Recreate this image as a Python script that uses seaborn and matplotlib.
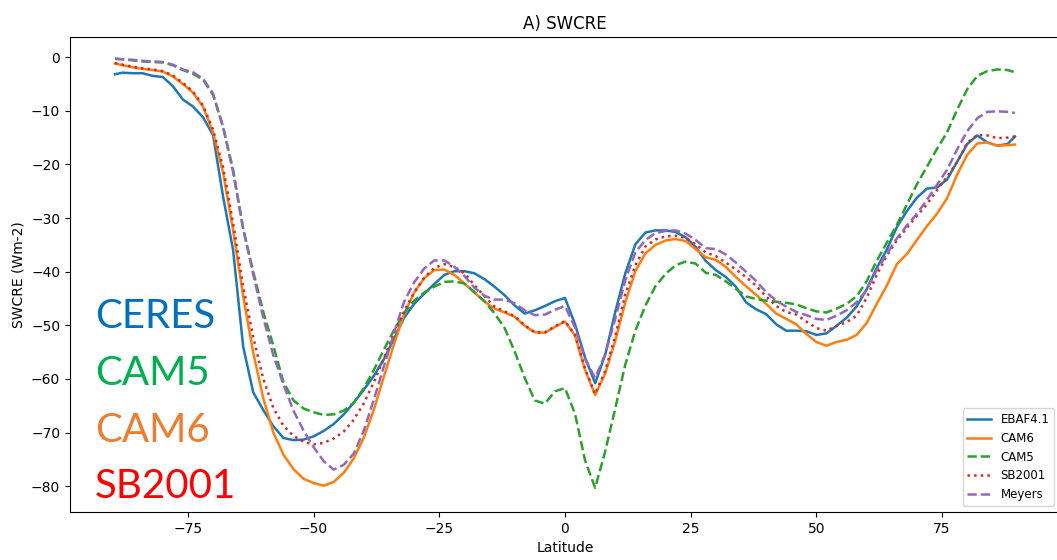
import numpy as np
import pandas as pd
import matplotlib
matplotlib.use("Agg")
import matplotlib.pyplot as plt
import seaborn as sns

# latitude grid of the zonal means
lat = np.concatenate([[-89.5], np.arange(-88, 89, 2), [89.5]])

ebaf = [-3.2, -2.9, -3.0, -3.0, -3.5, -3.7, -5.4, -7.9, -9.2, -11.2,
        -14.5, -26.0, -36.0, -54.0, -62.5, -65.8, -68.8, -71.0, -71.4, -71.3,
        -70.7, -69.7, -68.4, -66.6, -64.4, -62.0, -59.4, -56.3, -52.5, -48.6,
        -46.0, -44.1, -42.3, -40.6, -39.9, -39.9, -40.3, -41.4, -42.8, -44.4,
        -46.3, -47.8, -47.2, -46.4, -45.5, -44.9, -49.8, -56.0, -60.8, -55.5,
        -47.5, -40.3, -34.9, -32.7, -32.3, -32.3, -32.6, -33.6, -35.4, -38.0,
        -39.7, -41.0, -42.8, -45.7, -47.0, -47.9, -49.8, -51.0, -51.0, -51.1,
        -51.8, -51.5, -50.1, -48.6, -46.5, -43.3, -39.3, -35.9, -31.7, -28.7,
        -26.2, -24.5, -24.3, -22.8, -19.5, -16.2, -14.6, -15.9, -16.5, -16.2,
        -14.8]

cam6 = [-1.2, -1.5, -1.9, -2.2, -2.4, -2.7, -3.6, -5.0, -6.6, -9.2,
        -14.0, -21.5, -32.3, -44.6, -55.1, -63.6, -70.0, -74.1, -76.8, -78.6,
        -79.4, -79.9, -79.2, -77.5, -74.8, -70.9, -65.7, -59.5, -53.5, -47.9,
        -43.9, -41.2, -39.7, -39.6, -40.6, -42.2, -43.9, -45.6, -46.9, -47.6,
        -48.4, -50.1, -51.3, -51.4, -50.3, -49.3, -51.9, -58.3, -63.0, -59.0,
        -52.9, -45.7, -39.9, -36.6, -35.0, -34.2, -33.9, -34.3, -35.8, -37.3,
        -37.8, -39.1, -41.0, -42.7, -44.3, -46.0, -47.8, -48.8, -49.8, -51.6,
        -53.1, -53.8, -53.1, -52.7, -51.8, -49.6, -46.0, -42.6, -38.6, -36.7,
        -34.1, -31.5, -29.2, -26.3, -21.9, -18.2, -16.1, -15.9, -16.5, -16.4,
        -16.3]

cam5 = [-0.3, -0.4, -0.6, -0.8, -0.9, -1.0, -1.5, -2.4, -3.1, -4.2,
        -7.0, -13.0, -21.0, -32.0, -40.0, -47.5, -53.8, -60.6, -64.0, -65.5,
        -66.2, -66.7, -66.6, -65.9, -64.4, -61.7, -58.3, -54.5, -50.9, -47.7,
        -45.4, -43.9, -42.8, -41.9, -41.8, -42.2, -43.8, -45.5, -47.8, -50.5,
        -54.9, -59.8, -64.0, -64.6, -62.3, -61.7, -66.5, -75.2, -80.3, -73.5,
        -65.5, -57.3, -51.0, -46.3, -42.7, -40.4, -38.8, -38.1, -38.5, -40.2,
        -40.6, -41.8, -43.2, -44.6, -45.1, -45.4, -45.6, -45.8, -46.1, -46.8,
        -47.4, -47.6, -46.9, -46.0, -44.6, -41.8, -38.0, -34.6, -31.3, -27.5,
        -23.7, -20.4, -17.1, -14.0, -9.8, -6.0, -3.5, -2.6, -2.3, -2.4,
        -2.8]

sb2001 = [-1.1, -1.4, -1.8, -2.1, -2.3, -2.6, -3.4, -4.8, -6.4, -9.0,
          -13.5, -20.5, -31.0, -42.8, -52.2, -60.0, -65.4, -68.7, -70.6, -71.7,
          -72.2, -71.9, -71.1, -69.8, -67.6, -64.5, -60.6, -56.1, -51.5, -47.4,
          -43.9, -41.1, -39.3, -38.6, -39.1, -40.3, -42.5, -44.6, -46.5, -47.4,
          -48.3, -50.0, -51.3, -51.3, -50.2, -49.2, -51.8, -58.1, -62.8, -58.5,
          -52.0, -44.2, -38.8, -35.3, -34.0, -33.4, -33.3, -33.7, -34.9, -36.4,
          -37.1, -38.3, -39.6, -41.0, -42.6, -44.6, -46.4, -47.5, -48.0, -49.3,
          -50.5, -51.0, -50.1, -49.4, -48.2, -44.9, -40.6, -37.0, -34.2, -31.8,
          -29.6, -27.4, -24.8, -22.3, -19.6, -16.0, -14.5, -14.6, -15.1, -15.0,
          -14.8]

meyers = [-0.3, -0.4, -0.5, -0.7, -0.8, -0.9, -1.4, -2.3, -2.8, -4.0,
          -6.8, -13.0, -21.5, -32.0, -40.5, -48.6, -55.6, -61.0, -65.9, -69.6,
          -72.7, -75.3, -76.9, -76.0, -73.9, -69.6, -63.8, -57.6, -51.4, -45.6,
          -42.0, -39.4, -37.9, -37.9, -39.1, -40.8, -43.0, -44.5, -45.2, -45.2,
          -45.9, -47.2, -48.1, -48.0, -47.1, -46.4, -50.4, -56.3, -59.8, -55.4,
          -48.8, -41.6, -36.4, -34.1, -32.8, -32.4, -32.3, -32.9, -34.1, -35.6,
          -35.8, -36.8, -38.3, -40.0, -41.7, -43.8, -45.4, -46.5, -47.5, -48.1,
          -48.8, -49.0, -48.2, -47.2, -45.7, -43.4, -39.7, -36.7, -33.8, -31.4,
          -29.2, -26.6, -23.8, -21.0, -17.2, -13.8, -11.4, -10.2, -10.1, -10.2,
          -10.4]

series = [("EBAF4.1", ebaf, "#1f77b4", "-"),
          ("CAM6", cam6, "#ff7f0e", "-"),
          ("CAM5", cam5, "#2ca02c", "--"),
          ("SB2001", sb2001, "#d62728", ":"),
          ("Meyers", meyers, "#9467bd", "--")]

big_labels = ["CERES", "CAM5", "CAM6", "SB2001"]
big_colors = ["#0070C0", "#00B050", "#ED7D31", "#FF0000"]

fig = plt.figure(figsize=(10.57, 5.6), dpi=100)
ax = fig.add_axes([0.0662, 0.0857, 0.9366, 0.8482])

for name, vals, col, ls in series:
    sns.lineplot(x=lat, y=vals, ax=ax, label=name, color=col, linestyle=ls,
                 linewidth=1.8)

ax.set_xlim(-98.45, 98.45)
ax.set_ylim(-84.8, 3.75)
ax.set_xticks([-75, -50, -25, 0, 25, 50, 75])
ax.set_title("A) SWCRE", fontsize=12)
ax.set_xlabel("Latitude")
ax.set_ylabel("SWCRE (Wm-2)")
ax.legend(loc="lower right", fontsize=8.5)

# big coloured labels pasted on the left
baselines = [328, 385, 442, 498]
for txt, col, yb in zip(big_labels, big_colors, baselines):
    fig.text(95 / 1057, 1 - yb / 560, txt, color=col, fontsize=29,
             family="Lato", va="baseline", ha="left")

fig.savefig("out.png", dpi=100)
